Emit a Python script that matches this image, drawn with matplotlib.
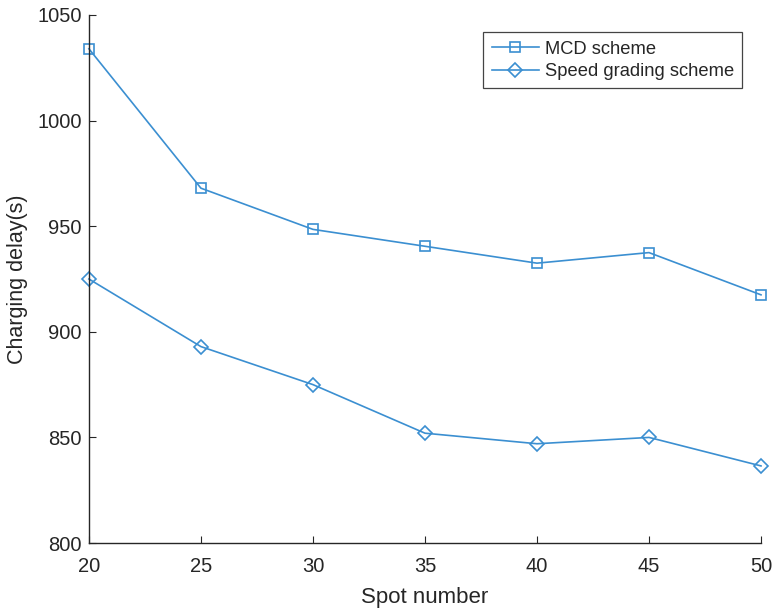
import matplotlib
matplotlib.use("Agg")
import matplotlib.pyplot as plt

spots = [20, 25, 30, 35, 40, 45, 50]
mcd_delay = [1034, 968, 948.5, 940.5, 932.5, 937.5, 917.5]
speed_delay = [925, 893, 875, 852, 847, 850, 836.5]

BLUE = "#3b8fd1"
DARK = "#262626"
plt.rcParams["font.family"] = ["Liberation Sans", "DejaVu Sans"]

fig = plt.figure(figsize=(7.73, 6.14), dpi=100)
ax = fig.add_axes([0.115, 0.1156, 0.8695, 0.86])

ax.plot(spots, mcd_delay, color=BLUE, lw=1.2, marker="s", ms=7.5,
        mfc="none", mec=BLUE, mew=1.2, label="MCD scheme", clip_on=False)
ax.plot(spots, speed_delay, color=BLUE, lw=1.2, marker="D", ms=7.5,
        mfc="none", mec=BLUE, mew=1.2, label="Speed grading scheme", clip_on=False)

ax.set_xlim(20, 50)
ax.set_ylim(800, 1050)
ax.set_xticks(spots)
ax.set_yticks(range(800, 1051, 50))

for s in ["top", "right"]:
    ax.spines[s].set_visible(False)
for s in ["left", "bottom"]:
    ax.spines[s].set_color(DARK)
    ax.spines[s].set_linewidth(1.0)
ax.tick_params(direction="in", length=5, labelsize=14.5, colors=DARK)
ax.tick_params(axis="x", pad=10)
ax.tick_params(axis="y", pad=5)

ax.set_xlabel("Spot number", fontsize=16, color=DARK, labelpad=8)
ax.set_ylabel("Charging delay(s)", fontsize=15.5, color=DARK, labelpad=7)

leg = ax.legend(loc="upper right", bbox_to_anchor=(0.972, 0.967), fontsize=13.2,
                fancybox=False, edgecolor="#444444", framealpha=1,
                handlelength=2.6, handletextpad=0.3, borderpad=0.45,
                labelspacing=0.3, borderaxespad=0)
leg.get_frame().set_linewidth(0.9)
for t in leg.get_texts():
    t.set_color(DARK)

fig.savefig("out.png", dpi=100)
